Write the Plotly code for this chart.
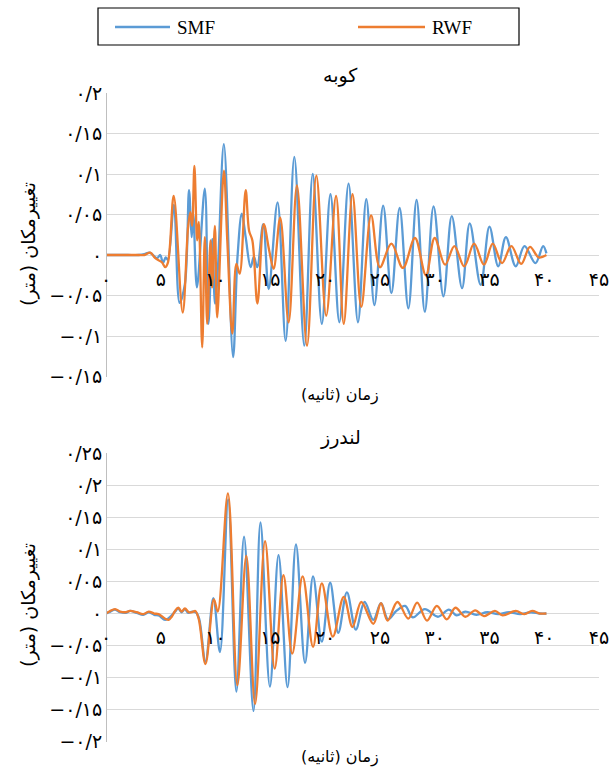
import plotly.graph_objects as go

W, H = 616, 772

# ---------------- data (time in s, displacement in m) ----------------
kobe_smf_t = [0, 1, 2, 3, 3.5, 4.0, 4.65, 4.95, 5.2, 5.45, 5.65, 6.2, 6.72, 7.2, 7.58, 7.82, 7.97,
              8.3, 9.02, 9.35, 9.7, 9.95, 10.2, 10.76, 11.6, 12.0, 12.4, 12.75, 13.2, 13.5, 13.8,
              14.35, 14.85, 15.66, 16.4, 17.19, 18.1, 18.87, 19.7, 20.49, 21.3, 22.14, 23.0, 23.76,
              24.5, 25.3, 26.05, 26.8, 27.6, 28.35, 29.1, 29.9, 30.8, 31.56, 32.5, 33.2, 34.2, 35.0,
              35.8, 36.5, 37.4, 38.2, 39.2, 39.9, 40.2]
kobe_smf_v = [0, 0, 0, 0, 0.001, 0.003, -0.004, 0.0, -0.010, -0.003, -0.006, 0.062, -0.059, -0.036,
              0.080, 0.022, 0.050, -0.040, 0.082, -0.085, 0.020, -0.060, -0.020, 0.137, -0.126, -0.003,
              0.051, 0.022, -0.015, -0.002, -0.015, 0.038, -0.042, 0.065, -0.106, 0.121, -0.112, 0.100,
              -0.085, 0.075, -0.083, 0.088, -0.083, 0.069, -0.062, 0.061, -0.047, 0.058, -0.066, 0.068,
              -0.070, 0.060, -0.051, 0.048, -0.041, 0.039, -0.037, 0.035, -0.014, 0.022, -0.014, 0.011,
              -0.010, 0.011, 0.002]

kobe_rwf_t = [0, 1, 2, 3, 3.5, 4.04, 4.5, 5.1, 5.4, 5.66, 6.18, 7.0, 7.49, 7.7, 7.86, 8.07, 8.32, 8.47,
              8.78, 9.02, 9.24, 9.54, 9.69, 9.94, 10.15, 10.76, 11.07, 11.53, 11.9, 12.2, 12.75, 13.06,
              13.36, 13.82, 14.4, 14.89, 15.3, 15.9, 16.67, 17.43, 18.35, 19.2, 20.1, 21.0, 21.7, 22.5,
              23.3, 24.2, 25.0, 26.05, 27.1, 28.2, 29.2, 30.0, 30.95, 31.8, 32.7, 33.6, 34.5, 35.3,
              36.15, 37.0, 37.9, 38.7, 39.5, 40.2]
kobe_rwf_v = [0, 0, 0, 0, 0, 0.003, -0.004, -0.009, -0.015, -0.009, 0.073, -0.071, 0.034, 0.053, 0.036,
              0.110, 0.018, 0.041, -0.114, 0.022, -0.085, 0.018, -0.040, 0.036, -0.077, 0.104, 0.018,
              -0.097, -0.011, -0.023, 0.080, 0.030, 0.018, -0.060, 0.038, 0.006, -0.017, 0.046, -0.083,
              0.086, -0.112, 0.098, -0.075, 0.073, -0.085, 0.075, -0.064, 0.049, -0.015, 0.014, -0.016,
              0.021, -0.025, 0.021, -0.012, 0.011, -0.014, 0.014, -0.012, 0.014, -0.010, 0.011, -0.011,
              0.010, -0.003, 0.0]

landers_smf_t = [0, 0.4, 0.8, 1.3, 1.8, 2.2, 2.8, 3.4, 3.9, 4.4, 4.8, 5.4, 5.8, 6.3, 6.6, 6.9, 7.2, 7.5,
                 7.86, 8.2, 8.5, 9.08, 9.8, 10.4, 11.15, 11.9, 12.6, 13.46, 14.1, 14.96, 15.75, 16.57,
                 17.34, 18.17, 18.9, 19.7, 20.46, 21.2, 21.99, 22.8, 23.6, 24.4, 25.1, 25.75, 26.5,
                 27.3, 28.0, 29.1, 30.3, 31.3, 32.0, 32.8, 33.8, 34.8, 35.8, 36.8, 37.8, 38.8, 39.6, 40.2]
landers_smf_v = [0, 0.003, 0.006, 0.002, 0.001, 0.004, 0.001, -0.002, 0.002, -0.002, -0.003, -0.010,
                 -0.006, 0.003, 0.008, 0.002, 0.007, 0.001, 0.003, 0.002, -0.008, -0.075, 0.024, -0.060,
                 0.178, -0.122, 0.120, -0.152, 0.142, -0.114, 0.091, -0.115, 0.108, -0.077, 0.058,
                 -0.044, 0.048, -0.030, 0.033, -0.025, 0.018, -0.010, 0.016, -0.009, 0.004, 0.012,
                 -0.006, 0.007, -0.005, 0.006, -0.003, 0.003, -0.002, 0.002, -0.001, 0.002, -0.001,
                 0.002, 0.0, 0.0]

landers_rwf_t = [0, 0.37, 0.83, 1.3, 1.75, 2.2, 2.8, 3.4, 3.9, 4.4, 4.8, 5.4, 5.72, 6.0, 6.3, 6.6, 6.9,
                 7.2, 7.55, 7.86, 8.15, 8.47, 9.08, 9.85, 10.2, 11.13, 11.99, 12.81, 13.61, 14.52, 15.4,
                 16.2, 17.0, 17.95, 18.9, 19.7, 20.7, 21.7, 22.5, 23.3, 24.4, 25.1, 25.7, 26.6, 27.6,
                 28.4, 29.3, 30.2, 31.1, 31.9, 32.8, 33.7, 34.5, 35.5, 36.2, 37.4, 38.2, 38.9, 39.6, 40.2]
landers_rwf_v = [0, 0.004, 0.007, 0.003, 0.002, 0.004, 0.002, -0.001, 0.003, 0.0, -0.001, -0.008,
                 -0.010, -0.005, 0.004, 0.009, 0.003, 0.008, 0.002, 0.002, 0.004, -0.009, -0.079, 0.022,
                 0.003, 0.1875, -0.112, 0.090, -0.141, 0.113, -0.086, 0.060, -0.0625, 0.058, -0.052,
                 0.047, -0.036, 0.026, -0.021, 0.018, -0.016, 0.016, -0.011, 0.018, -0.008, 0.017,
                 -0.011, 0.012, -0.009, 0.009, -0.005, 0.005, -0.004, 0.004, -0.003, 0.004, -0.001,
                 0.004, 0.0, 0.0]

series_names = ["SMF", "RWF"]
series_colors = ["#5B9BD5", "#ED7D31"]

x_ticks = [0, 5, 10, 15, 20, 25, 30, 35, 40, 45]
x_labels = ["۰", "۵", "۱۰", "۱۵", "۲۰", "۲۵", "۳۰", "۳۵", "۴۰", "۴۵"]

y_ticks_top = [0.2, 0.15, 0.1, 0.05, 0, -0.05, -0.1, -0.15]
y_labels_top = ["۰/۲", "۰/۱۵", "۰/۱", "۰/۰۵", "۰", "−۰/۰۵", "−۰/۱", "−۰/۱۵"]
y_ticks_bot = [0.25, 0.2, 0.15, 0.1, 0.05, 0, -0.05, -0.1, -0.15, -0.2]
y_labels_bot = ["۰/۲۵", "۰/۲", "۰/۱۵", "۰/۱", "۰/۰۵", "۰", "−۰/۰۵", "−۰/۱", "−۰/۱۵", "−۰/۲"]

title_top = "کوبه"
title_bot = "لندرز"
x_title = "زمان (ثانیه)\u200f"
y_title = "تغییرمکان (متر)\u200f"

# ---------------- layout geometry (pixels) ----------------
X0, X1 = 106, 599
TOP_Y = (93, 376.5)      # pixel y of range max / range min
BOT_Y = (453.3, 741.7)
top_range = [-0.15, 0.2]
bot_range = [-0.2, 0.25]


def py(p):
    return 1 - p / H


def px(p):
    return p / W


top_dom = [py(TOP_Y[1]), py(TOP_Y[0])]
bot_dom = [py(BOT_Y[1]), py(BOT_Y[0])]


def zero_pos(dom, rng):
    return dom[0] + (0 - rng[0]) / (rng[1] - rng[0]) * (dom[1] - dom[0])


PERS = "DejaVu Sans"
SERIF = "Liberation Serif, Times New Roman, serif"
LINE_W = 2.3

fig = go.Figure()
for (t, v, xa, ya) in [(kobe_smf_t, kobe_smf_v, "x", "y"), (landers_smf_t, landers_smf_v, "x2", "y2")]:
    fig.add_trace(go.Scatter(x=t, y=v, xaxis=xa, yaxis=ya, mode="lines", name=series_names[0],
                             line=dict(color=series_colors[0], width=LINE_W, shape="spline", smoothing=1.0),
                             showlegend=False))
for (t, v, xa, ya) in [(kobe_rwf_t, kobe_rwf_v, "x", "y"), (landers_rwf_t, landers_rwf_v, "x2", "y2")]:
    fig.add_trace(go.Scatter(x=t, y=v, xaxis=xa, yaxis=ya, mode="lines", name=series_names[1],
                             line=dict(color=series_colors[1], width=LINE_W, shape="spline", smoothing=1.0),
                             showlegend=False))

xdom = [px(X0), px(X1)]
common_x = dict(domain=xdom, range=[0, 45], tickvals=x_ticks, ticktext=x_labels,
                showgrid=False, zeroline=False, showline=False,
                ticks="outside", ticklen=7, tickcolor="rgba(0,0,0,0)",
                tickfont=dict(family=PERS, size=19, color="#000"), anchor="free", automargin=False)
common_y = dict(showgrid=True, gridcolor="#D9D9D9", gridwidth=1, zeroline=True,
                zerolinecolor="#D9D9D9", zerolinewidth=1, showline=True, linecolor="#BFBFBF",
                linewidth=1, ticks="", tickfont=dict(family=PERS, size=19, color="#000"),
                anchor="free", position=px(X0), automargin=False)

fig.update_layout(
    width=W, height=H, autosize=False,
    margin=dict(l=0, r=0, t=0, b=0, pad=0, autoexpand=False),
    paper_bgcolor="white", plot_bgcolor="white",
    xaxis=dict(common_x, position=zero_pos(top_dom, top_range)),
    yaxis=dict(common_y, domain=top_dom, range=top_range, tickvals=y_ticks_top, ticktext=y_labels_top),
    xaxis2=dict(common_x, position=zero_pos(bot_dom, bot_range)),
    yaxis2=dict(common_y, domain=bot_dom, range=bot_range, tickvals=y_ticks_bot, ticktext=y_labels_bot),
    showlegend=False,
)

# ---- legend box (drawn) ----
shapes = [dict(type="rect", xref="paper", yref="paper", x0=px(98), x1=px(519), y0=py(45), y1=py(8),
               line=dict(color="#000", width=1.2), fillcolor="rgba(0,0,0,0)")]
legend_items = [(115, 170, 175), (358, 425, 430)]
ann = []
for i, (lx0, lx1, tx) in enumerate(legend_items):
    shapes.append(dict(type="line", xref="paper", yref="paper", x0=px(lx0), x1=px(lx1), y0=py(27), y1=py(27),
                       line=dict(color=series_colors[i], width=LINE_W)))
    ann.append(dict(text=series_names[i], x=px(tx), y=py(27), xref="paper", yref="paper", showarrow=False,
                    xanchor="left", yanchor="middle", font=dict(family=SERIF, size=19, color="#000")))

for txt, yc in [(title_top, 75), (title_bot, 437)]:
    ann.append(dict(text=txt, x=px(340), y=py(yc), xref="paper", yref="paper", showarrow=False,
                    xanchor="center", yanchor="middle", font=dict(family=PERS, size=19, color="#000")))
for yc in [395, 757]:
    ann.append(dict(text=x_title, x=px(340), y=py(yc), xref="paper", yref="paper", showarrow=False,
                    xanchor="center", yanchor="middle", font=dict(family=PERS, size=16, color="#000")))
for yc in [244, 605]:
    ann.append(dict(text=y_title, x=px(28), y=py(yc), xref="paper", yref="paper", showarrow=False,
                    textangle=-90, xanchor="center", yanchor="middle",
                    font=dict(family=PERS, size=19, color="#000")))
fig.update_layout(annotations=ann, shapes=shapes)

fig.write_html("out.html", config={"displayModeBar": False},
               post_script="document.body.style.margin='0';document.body.style.overflow='hidden';")
